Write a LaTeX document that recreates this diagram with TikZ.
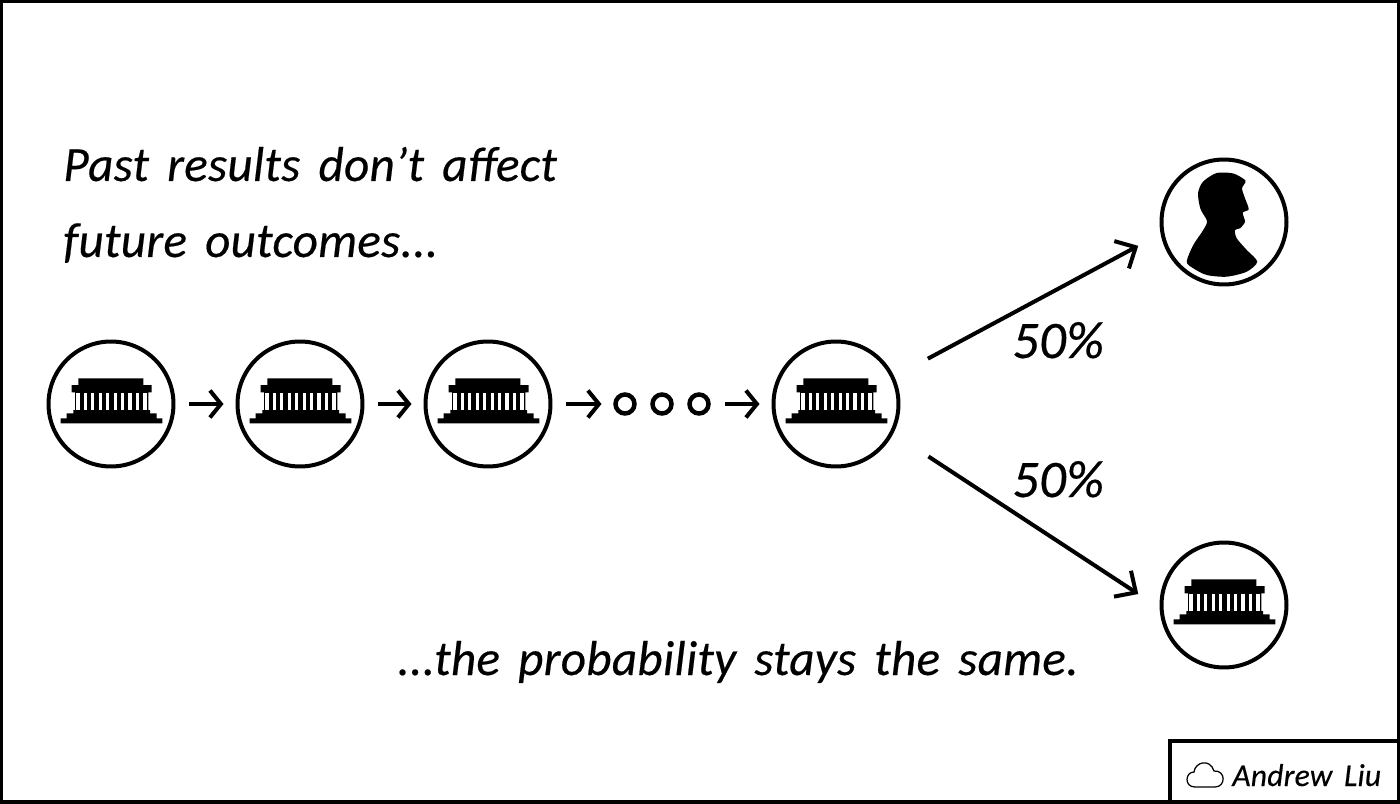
\documentclass[tikz,border=0pt]{standalone}
\usepackage{fontspec}
\setmainfont{Carlito}[WordSpace=1.6,LetterSpace=0.5,FakeBold=0.35]
\usetikzlibrary{arrows.meta}
\tikzset{
	coin/.style={draw, circle, line width=0.08cm, minimum size=2.5cm, inner sep=0pt, outer sep=0pt},
	ringdot/.style={draw, circle, line width=0.09cm, minimum size=0.38cm, inner sep=0pt, outer sep=0pt},
	flow/.style={line width=0.08cm, -{Straight Barb[length=0.22cm,width=0.54cm,line width=0.08cm]}, shorten <=0.32cm, shorten >=0.28cm},
	branch/.style={line width=0.08cm, -{Straight Barb[length=0.32cm,width=0.62cm,line width=0.08cm]}},
	hand/.style={inner sep=0pt, anchor=base west, font=\itshape\fontsize{28}{28}\selectfont},
	temple/.pic={
		\fill (-32.7,-25.7) -- (32.3,-25.7) -- (32.3,-19) -- (40.7,-19) -- (40.7,-11.7) -- (37.3,-11.7) -- (37.3,6)
		-- (39,6) -- (39,9.3) -- (45.7,9.3) -- (45.7,14.3) -- (51.3,14.3) -- (51.3,19.3) -- (-50.3,19.3) -- (-50.3,14.3)
		-- (-44.3,14.3) -- (-44.3,9.3) -- (-37.7,9.3) -- (-37.7,6) -- (-36,6) -- (-36,-11.7) -- (-39.3,-11.7) -- (-39.3,-19) -- (-32.7,-19) -- cycle;
		\foreach \i in {0,...,9}
			\fill[white] ({-34.6+7.44*\i},-10.7) rectangle ({-31.4+7.44*\i},6);
	},
	profile/.pic={
		\fill plot[smooth cycle, tension=0.45] coordinates {(-37.3,39.7) (-30.7,23) (-20.7,8) (-17,-1) (-23.5,-13)
			(-26,-28.7) (-21,-40.3) (-7.3,-49) (9.3,-48.5) (21.5,-41.3) (18,-33.7) (21,-23.7) (24.7,-12.7) (18.7,-9.3)
			(21,-0.3) (16,6.3) (11,8) (12.7,16.3) (22.7,28) (33.3,39.7) (22.7,49.7) (2.7,54.7) (-17.3,53) (-30.7,46.3)};
	},
}
\begin{document}
\begin{tikzpicture}[x=0.02cm, y=-0.02cm]

	\useasboundingbox (0,0) rectangle (1400,804);

	% Moldura
	\draw[line width=0.08cm] (1.5,1.5) rectangle (1398.5,802);
	\draw[line width=0.07cm] (1170,802) |- (1398.5,741);

	% Texto
	\node[hand] (pasttext) at (63,181) {Past results don’t affect};
	\node[hand] (futuretext) at (63,257) {future outcomes...};
	\node[hand] (sametext) at (397,675) {...the probability stays the same.};

	% Moedas
	\node[coin] (c1) at (111,404) {};
	\node[coin] (c2) at (300,404) {};
	\node[coin] (c3) at (488,404) {};
	\node[ringdot] (d1) at (625,404) {};
	\node[ringdot] (d2) at (662,404) {};
	\node[ringdot] (d3) at (699,404) {};
	\node[coin] (c4) at (836,404) {};
	\node[coin] (heads) at (1224,222) {};
	\node[coin] (tails) at (1224,605) {};

	\foreach \n in {c1,c2,c3,c4,tails}
		\pic at (\n) {temple};
	\pic at (heads) {profile};

	% Setas
	\draw[flow] (c1) -- (c2);
	\draw[flow] (c2) -- (c3);
	\draw[flow] (c3) -- (d1);
	\draw[flow] (d3) -- (c4);
	\draw[branch, shorten <=0.8cm, shorten >=0.55cm] (c4.25) -- (heads.190);
	\draw[branch, shorten <=0.88cm, shorten >=0.56cm] (c4.-27.5) -- (tails.184);

	% Probabilidades
	\node[hand, font=\itshape\fontsize{30}{30}\selectfont] (upper) at (1012,358) {50\%};
	\node[hand, font=\itshape\fontsize{30}{30}\selectfont] (lower) at (1012,497) {50\%};

	% Assinatura
	\draw[line width=0.025cm] (1195,787) .. controls (1184,787) and (1185,772) .. (1194,772)
	.. controls (1195,762) and (1210,758) .. (1214,771)
	.. controls (1226,770) and (1226,787) .. (1215,787) -- cycle;
	\node[hand, font=\itshape\fontsize{18}{18}\selectfont] (credit) at (1232,786) {Andrew Liu};

\end{tikzpicture}
\end{document}
